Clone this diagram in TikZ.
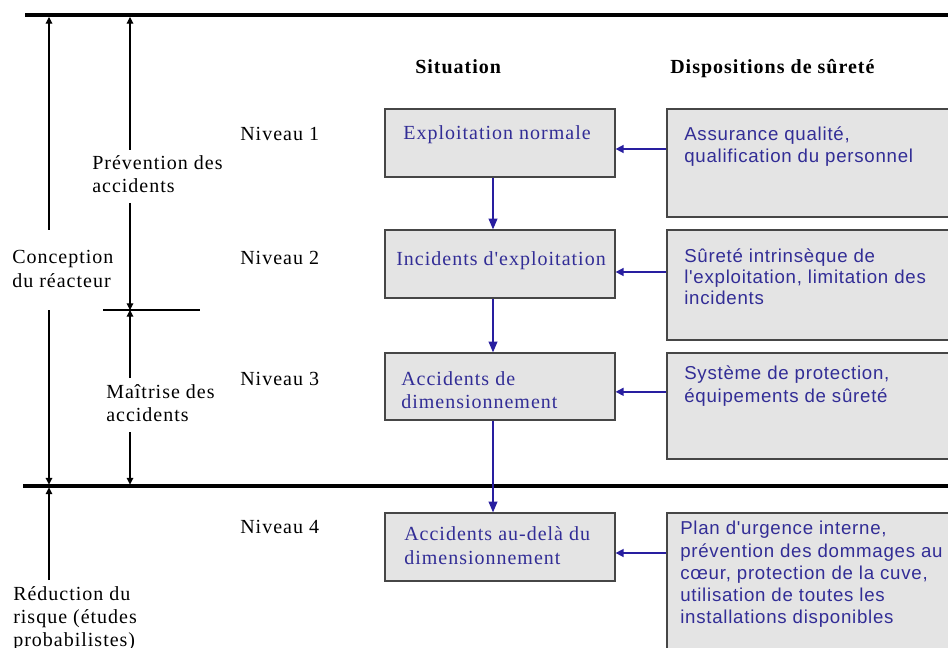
\documentclass[tikz,border=0pt]{standalone}
\usepackage{fontspec}
\setmainfont{Liberation Serif}[LetterSpace=5, Ligatures=TeXOff]
\newfontfamily\sansf{Liberation Sans}[LetterSpace=4]
\usetikzlibrary{arrows.meta,fit}
\definecolor{txtblue}{RGB}{50,45,150}
\definecolor{arrblue}{RGB}{40,30,160}
\definecolor{boxfill}{RGB}{228,228,228}
\definecolor{boxline}{RGB}{70,70,70}
\begin{document}
\begin{tikzpicture}[x=0.75pt,y=-0.75pt,
  sbox/.style={draw=boxline, fill=boxfill, line width=0.9pt, inner sep=0pt},
  lbl/.style={anchor=base west, inner sep=0pt, align=left, font=\fontsize{15}{17.25}\selectfont},
  clbl/.style={anchor=base, inner sep=0pt, align=center, text=txtblue, font=\fontsize{15}{17.25}\selectfont},
  blbl/.style={lbl, text=txtblue},
  slbl/.style={anchor=base west, inner sep=0pt, align=left, text=txtblue, font=\sansf\fontsize{14}{16.6}\selectfont},
  thickline/.style={line width=2.6pt, black},
  blkarr/.style={line width=0.8pt, black, -{Triangle[length=5pt,width=5pt]}},
  harr/.style={line width=1.1pt, arrblue, -{Triangle[length=6pt,width=6pt]}},
  varr/.style={line width=1.1pt, arrblue, -{Triangle[length=8pt,width=6.5pt]}}
]
\useasboundingbox (0,0) rectangle (948,648);
\clip (0,0) rectangle (948,648);

% horizontal rules
\draw[thickline] (25,15) -- (960,15);
\draw[thickline] (23,486) -- (960,486);
\draw[line width=0.8pt] (103,310) -- (200,310);

% headers
\node[lbl, font=\fontsize{15}{17.25}\selectfont\bfseries] (hsit) at (415,74) {Situation};
\node[lbl, font=\fontsize{15}{17.25}\selectfont\bfseries] (hdis) at (670,74) {Dispositions de sûreté};

% level labels
\node[lbl] (n1) at (240,141) {Niveau 1};
\node[lbl] (n2) at (240,265) {Niveau 2};
\node[lbl] (n3) at (240,385) {Niveau 3};
\node[lbl] (n4) at (240,533) {Niveau 4};

% left labels (anchor at baseline of last line)
\node[lbl] (prev) at (92,193) {Prévention des\\accidents};
\node[lbl] (conc) at (12,287) {Conception\\du réacteur};
\node[lbl] (mait) at (106,421) {Maîtrise des\\accidents};
\node[lbl] (redu) at (13,646) {Réduction du\\risque (études\\probabilistes)};

% left dimension arrows
\coordinate (a1top) at (49,17);
\coordinate (a1s) at (49,230);
\coordinate (a1e) at (49,310);
\coordinate (a1bot) at (49,484.5);
\coordinate (a1low) at (49,487.5);
\coordinate (a1r) at (49,580);
\coordinate (b1top) at (130,17);
\coordinate (b1s) at (130,150);
\coordinate (b1e) at (130,203);
\coordinate (bmid) at (130,310);
\coordinate (b2s) at (130,378);
\coordinate (b2e) at (130,432);
\coordinate (b2bot) at (130,484.5);
\draw[blkarr] (a1s) -- (a1top);
\draw[blkarr] (a1e) -- (a1bot);
\draw[blkarr] (a1r) -- (a1low);
\draw[blkarr] (b1s) -- (b1top);
\draw[blkarr] (b1e) -- (bmid);
\draw[blkarr] (b2s) -- (bmid);
\draw[blkarr] (b2e) -- (b2bot);

% situation boxes
\node[sbox, fit={(385,109) (615,177)}] (s1) {};
\node[sbox, fit={(385,230) (615,298)}] (s2) {};
\node[sbox, fit={(385,353) (615,420)}] (s3) {};
\node[sbox, fit={(385,513) (615,581)}] (s4) {};
\node[clbl] (s1t) at (497,140) {Exploitation normale};
\node[clbl] (s2t) at (501,266) {Incidents d'exploitation};
\node[blbl] (s3t) at (401,408) {Accidents de\\dimensionnement};
\node[blbl, font=\fontsize{15}{18}\selectfont] (s4t) at (404,564) {Accidents au-delà du\\dimensionnement};

% disposition boxes
\node[sbox, fit={(667,109) (965,217)}] (d1) {};
\node[sbox, fit={(667,230) (965,340)}] (d2) {};
\node[sbox, fit={(667,353) (965,459)}] (d3) {};
\node[sbox, fit={(667,513) (965,670)}] (d4) {};
\node[slbl] (d1t) at (684,163) {Assurance qualité,\\qualification du personnel};
\node[slbl, font=\sansf\fontsize{14}{15.6}\selectfont] (d2t) at (684,304.5) {Sûreté intrinsèque de\\l'exploitation, limitation des\\incidents};
\node[slbl] (d3t) at (684,402) {Système de protection,\\équipements de sûreté};
\node[slbl] (d4t) at (680,623.5) {Plan d'urgence interne,\\prévention des dommages au\\cœur, protection de la cuve,\\utilisation de toutes les\\installations disponibles};

% horizontal arrows
\draw[harr] ([yshift=-4.5pt]d1.west |- s1.east) -- ([yshift=-4.5pt]s1.east);
\draw[harr] ([yshift=-6pt]d2.west |- s2.east) -- ([yshift=-6pt]s2.east);
\draw[harr] ([yshift=-4pt]d3.west |- s3.east) -- ([yshift=-4pt]s3.east);
\draw[harr] ([yshift=-4.5pt]d4.west |- s4.east) -- ([yshift=-4.5pt]s4.east);

% vertical arrows
\draw[varr] ([xshift=-5.25pt]s1.south) -- ([xshift=-5.25pt]s2.north);
\draw[varr] ([xshift=-5.25pt]s2.south) -- ([xshift=-5.25pt]s3.north);
\draw[varr] ([xshift=-5.25pt]s3.south) -- ([xshift=-5.25pt]s4.north);
\end{tikzpicture}
\end{document}
